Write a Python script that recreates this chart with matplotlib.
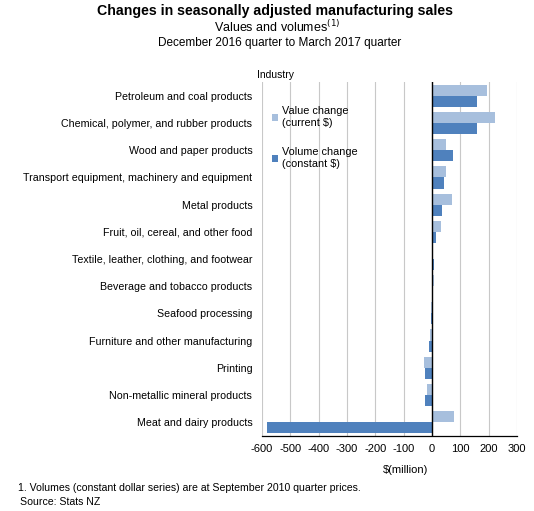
import matplotlib
matplotlib.use("Agg")
import matplotlib.pyplot as plt
import numpy as np

plt.rcParams['font.family'] = ['Liberation Sans', 'DejaVu Sans']

categories = [
    "Petroleum and coal products",
    "Chemical, polymer, and rubber products",
    "Wood and paper products",
    "Transport equipment, machinery and equipment",
    "Metal products",
    "Fruit, oil, cereal, and other food",
    "Textile, leather, clothing, and footwear",
    "Beverage and tobacco products",
    "Seafood processing",
    "Furniture and other manufacturing",
    "Printing",
    "Non-metallic mineral products",
    "Meat and dairy products",
]
value_change = [193, 221, 51, 51, 69, 31, 2, 8, -3, -8, -29, -19, 76]
volume_change = [160, 158, 73, 41, 34, 13, 8, 1, -5, -12, -26, -26, -581]
xticks = [-600, -500, -400, -300, -200, -100, 0, 100, 200, 300]

c_value = "#A7BFDD"
c_volume = "#4F81BD"

fig = plt.figure(figsize=(5.34, 5.11), dpi=100)
W, H = 534, 511
left, right, top, bottom = 262, 517, 82.4, 435.6
ax = fig.add_axes([left / W, 1 - bottom / H, (right - left) / W, (bottom - top) / H])

y = np.arange(len(categories))
h = 0.41
ax.barh(y - h / 2, value_change, height=h, color=c_value, zorder=2, label="Value change\n(current $)")
ax.barh(y + h / 2, volume_change, height=h, color=c_volume, zorder=2, label="Volume change\n(constant $)")

ax.set_ylim(len(categories) - 0.5, -0.5)
ax.set_xlim(-600, 300)
ax.set_xticks(xticks)
ax.set_xticklabels([str(t) for t in xticks], fontsize=8)
ax.set_yticks(y)
ax.set_yticklabels(categories, fontsize=7.7)
ax.tick_params(axis='y', length=0, pad=7)
ax.tick_params(axis='x', length=0, pad=6)
ax.xaxis.grid(True, color="#C8C8C8", linewidth=0.8, zorder=0)
ax.set_axisbelow(True)
for s in ["left", "right", "top"]:
    ax.spines[s].set_visible(False)
ax.spines["bottom"].set_color("black")
ax.spines["bottom"].set_linewidth(0.9)
ax.axvline(0, color="black", linewidth=1.0, zorder=3)

ax.set_xlabel("$(million)", fontsize=8)
ax.xaxis.set_label_coords((406 - left) / (right - left), -(470 - bottom) / (bottom - top), transform=ax.transAxes)
ax.xaxis.label.set_va("center")

leg = ax.legend(loc="upper left", bbox_to_anchor=(0.0, 0.96), frameon=False,
                fontsize=7.8, handlelength=0.55, handleheight=0.55, handletextpad=0.35,
                labelspacing=1.8)

fig.text(275 / W, 1 - 11 / H, "Changes in seasonally adjusted manufacturing sales",
         ha="center", va="center", fontsize=10.2, fontweight="bold")
fig.text(277 / W, 1 - 27 / H, r"Values and volumes$^{(1)}$", ha="center", va="center", fontsize=9)
fig.text(280 / W, 1 - 43 / H, "December 2016 quarter to March 2017 quarter",
         ha="center", va="center", fontsize=8.5)
fig.text(276 / W, 1 - 75 / H, "Industry", ha="center", va="center", fontsize=7.5)
fig.text(18 / W, 1 - 488 / H, "1. Volumes (constant dollar series) are at September 2010 quarter prices.",
         ha="left", va="center", fontsize=7.6)
fig.text(20 / W, 1 - 502 / H, "Source: Stats NZ", ha="left", va="center", fontsize=7.6)

fig.savefig("out.png", dpi=100)
